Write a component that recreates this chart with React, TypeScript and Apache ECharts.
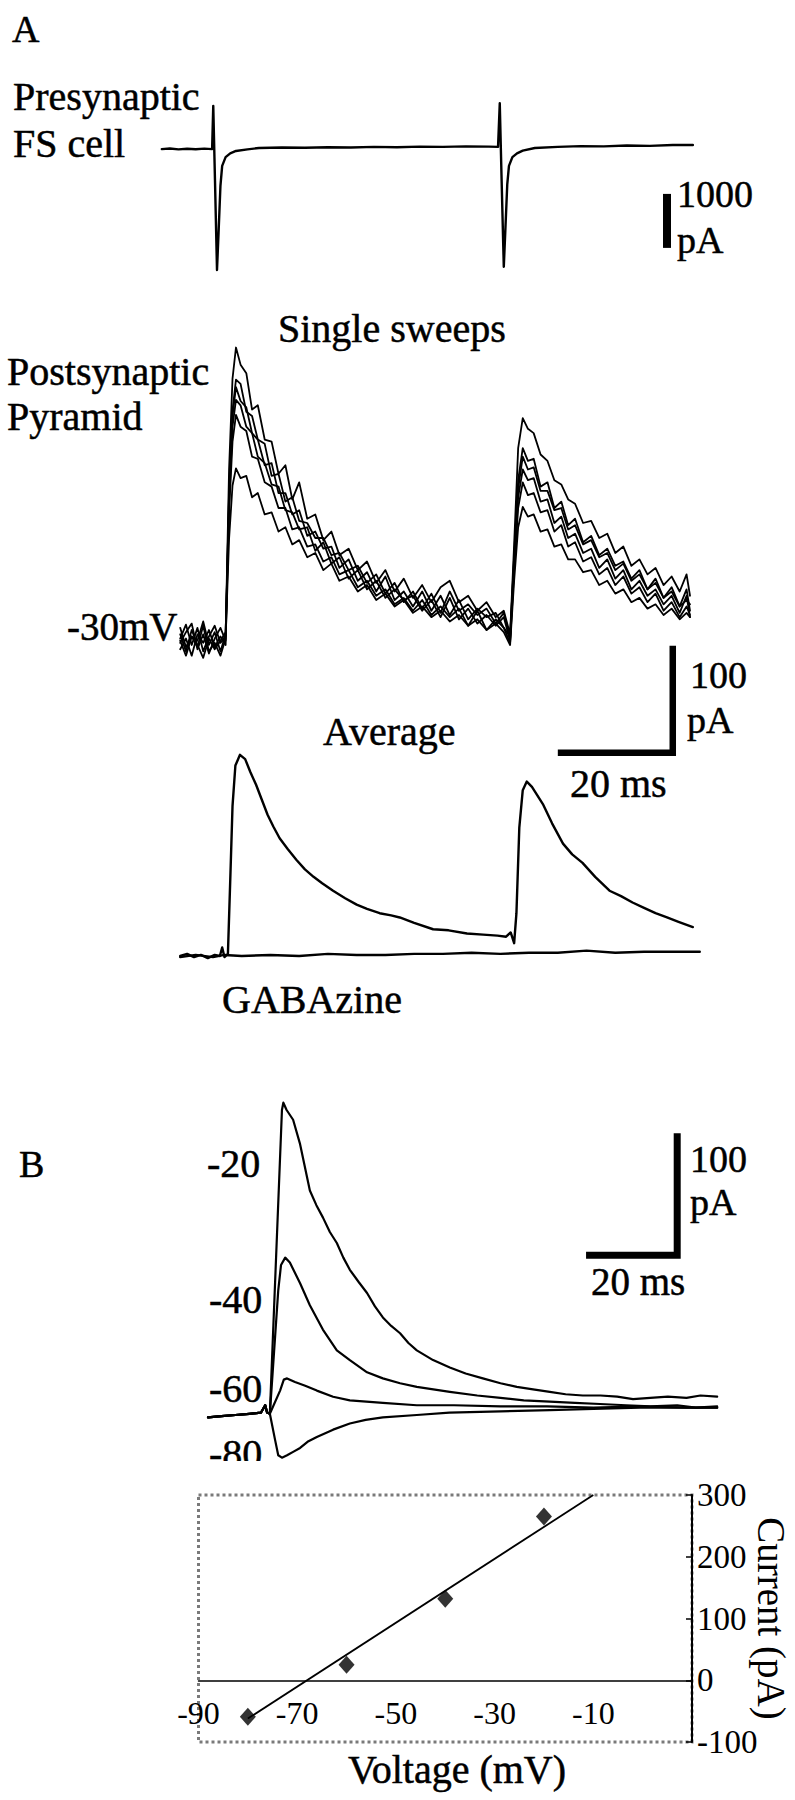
import React, { useEffect, useRef } from "react";
import * as echarts from "echarts";

const FONT = "'Liberation Serif', 'Times New Roman', serif";

// ---------- Panel A: presynaptic FS cell (t in ms, current in pA) ----------
const PRE_T = [
  -8.9, -7.5, -6, -4.5, -3, -1.5, -0.15, 0.05, 0.35, 0.7, 1.0, 1.3, 1.6, 2.2, 3.0, 4.0, 6,
  8, 12, 16, 20, 24, 28, 32, 36, 40, 44, 48, 49.6, 49.9, 50.2, 50.6, 50.9, 51.2, 51.5,
  52.1, 52.9, 53.9, 56, 60, 64, 68, 72, 76, 80, 83.5,
];
const PRE_I = [
  -20, -10, -25, -15, -22, -12, -20, 780, -600, -2260, -1500, -700, -330, -170, -100, -55, -25,
  0, 10, 5, 15, 10, 20, 15, 25, 20, 30, 25, 20, 830, -500, -2200, -1450, -680, -330,
  -170, -100, -50, 0, 20, 35, 30, 45, 40, 55, 55,
];

// ---------- Panel A: postsynaptic single sweeps ----------
const SWEEP_T = [
  -5.7, -4.7, -3.7, -2.7, -1.7, -0.7, 0.3, 1.3, 2.2, 2.8, 3.4, 4.0,
  4.8, 5.8, 6.8, 7.8, 9.0, 10.2, 11.4, 12.6, 13.8, 15.0, 16.4, 17.8,
  19.2, 20.6, 22.0, 23.6, 25.2, 26.8, 28.4, 30.0, 31.6, 33.2, 34.8, 36.4,
  38.0, 39.6, 41.2, 42.8, 44.4, 46.0, 47.6, 49.2, 50.6, 51.7, 52.4, 53.1,
  53.9, 54.8, 55.8, 57.0, 58.2, 59.4, 60.6, 61.8, 63.0, 64.4, 65.8, 67.2,
  68.6, 70.0, 71.4, 72.8, 74.2, 75.6, 77.0, 78.4, 79.8, 81.2, 82.4, 83.0,
];
const SWEEP_1 = [
  -8, 5, -14, 2, -20, -6, 4, -12, -6, 150, 235, 264,
  248, 240, 206, 210, 178, 176, 146, 154, 122, 138, 104, 108,
  84, 92, 70, 76, 56, 64, 44, 56, 36, 48, 30, 42,
  26, 40, 46, 26, 32, 18, 26, 12, 18, -4, 80, 170,
  198, 188, 184, 164, 158, 140, 136, 122, 118, 100, 102, 86,
  90, 72, 78, 60, 66, 52, 58, 42, 50, 36, 52, 32,
];
const SWEEP_2 = [
  -12, -2, 6, -18, -4, -22, -8, 2, -10, 130, 205, 234,
  230, 204, 200, 178, 174, 144, 146, 120, 124, 102, 100, 86,
  86, 70, 72, 56, 60, 44, 52, 34, 44, 26, 36, 20,
  34, 16, 36, 18, 24, 14, 20, 6, 16, -8, 70, 140,
  170, 158, 160, 134, 138, 114, 120, 98, 104, 82, 88, 70,
  76, 60, 64, 48, 56, 38, 48, 30, 40, 22, 38, 18,
];
const SWEEP_3 = [
  2, -16, -6, -10, 8, -14, -2, -20, -4, 125, 200, 227,
  214, 208, 184, 178, 154, 156, 128, 128, 108, 112, 88, 92,
  76, 78, 58, 66, 46, 54, 36, 50, 28, 36, 22, 36,
  18, 32, 14, 28, 10, 20, 12, 16, 2, -6, 66, 132,
  162, 150, 152, 130, 130, 112, 114, 94, 98, 80, 84, 68,
  72, 56, 62, 46, 52, 38, 44, 30, 36, 22, 28, 24,
];
const SWEEP_4 = [
  -18, -8, -24, -4, -12, 0, -16, -6, -14, 118, 190, 215,
  210, 190, 184, 162, 156, 136, 134, 112, 110, 94, 96, 74,
  82, 62, 68, 48, 56, 38, 46, 30, 38, 28, 32, 18,
  28, 12, 30, 10, 20, 6, 14, 4, 12, -10, 60, 124,
  150, 140, 142, 120, 122, 100, 106, 86, 90, 72, 76, 58,
  66, 48, 56, 38, 46, 32, 38, 24, 32, 16, 32, 12,
];
const SWEEP_5 = [
  -4, -20, 0, -14, -26, -8, -18, -10, -2, 110, 176, 201,
  190, 186, 162, 160, 138, 134, 114, 114, 94, 96, 78, 80,
  64, 68, 52, 56, 40, 46, 32, 38, 24, 30, 18, 28,
  14, 22, 12, 20, 4, 18, 0, 10, 2, -12, 56, 114,
  138, 126, 128, 110, 112, 92, 98, 78, 82, 64, 68, 52,
  58, 42, 50, 34, 40, 26, 34, 18, 26, 12, 22, 14,
];
const SWEEP_6 = [
  -10, -24, -6, -16, 4, -20, -12, -24, -8, 85, 135, 151,
  142, 144, 124, 128, 108, 110, 92, 96, 80, 84, 68, 72,
  56, 62, 46, 50, 36, 42, 28, 34, 22, 28, 16, 22,
  12, 18, 8, 14, 4, 10, 0, 6, -2, -14, 46, 96,
  115, 106, 108, 92, 94, 78, 80, 66, 66, 54, 56, 42,
  46, 34, 38, 26, 30, 20, 24, 14, 20, 10, 16, 12,
];
const SWEEPS = [SWEEP_1, SWEEP_2, SWEEP_3, SWEEP_4, SWEEP_5, SWEEP_6];

// ---------- Panel A: average and GABAzine ----------
const AVG_T = [
  -5.7, -4.5, -3.3, -2.1, -0.9, 0.3, 1.2, 1.6, 2.0, 2.6, 3.0, 3.4, 3.9, 4.7, 5.6, 6.5,
  7.5, 8.5, 9.5, 10.5, 11.6, 13.0, 14.5, 16, 17.5, 19, 20.9, 23, 25, 26.8, 29, 31,
  32.5, 35, 38.3, 41, 44.2, 47, 49.5, 51.0, 51.8, 52.4, 52.8, 53.3, 53.9, 54.6, 55.5,
  57.4, 59, 60.9, 62.5, 64.3, 66.5, 69, 71, 73, 75, 77, 79, 81, 83.5,
];
const AVG_I = [
  0, 2, -1, 1, -2, 1, 0, 8, -1, 2, 70, 140, 178, 188, 184, 172,
  160, 146, 132, 121, 110, 100, 90, 81, 74, 68, 61, 54, 48, 44, 40, 38,
  36, 31, 25, 24, 21, 20, 19, 18, 22, 12, 40, 120, 155, 163, 158,
  142, 124, 105, 95, 87, 74, 61, 56, 50, 45, 40, 36, 32, 27,
];
const GABA_T = [-5.7, -3, 0, 2, 5, 10, 15, 20, 25, 30, 35, 40, 45, 50, 55, 60, 65, 70, 75, 80, 84.7];
const GABA_I = [-1, 1, -1, 1, 0, 1, 0, 2, 1, 1, 2, 2, 3, 2, 3, 3, 5, 3, 4, 4, 4];

// ---------- Panel B: currents at holding potentials ----------
const B_PRE_T = [-12.9, -10, -7, -4, -1.5, -0.6, -0.2, 0.4];
const B_PRE_I = [-2, -1, 0, 1, 2, 8, 2, 1];
const B20_T = [3.0, 3.3, 4.0, 5.4, 6.9, 9.0, 10.4, 11.8, 13.3, 14.8, 16.2, 17.6, 19.5, 21.3, 23, 24.7, 26.5, 28.4, 30.2, 32, 35.5, 39.1, 42.5, 46.2, 50, 53.5, 57, 60.6, 64, 67.7, 71.5, 75.1, 78.5, 82.2, 86, 90, 93, 96.6];
const B20_I = [250, 256, 250, 242, 222, 184, 172, 162, 150, 141, 129, 119, 109, 100, 89, 80, 73, 67, 59, 53, 45, 39, 34, 30, 26, 23, 21, 19, 17, 16, 16, 15, 13, 14, 15, 14, 16, 15];
const B40_T = [2.2, 2.8, 3.7, 4.7, 6.9, 9.0, 11.8, 14.8, 17.6, 21.3, 24.7, 28.4, 32, 39.1, 45, 50, 55, 60.6, 66, 71.4, 77, 82.2, 88, 92, 96.6];
const B40_I = [102, 123, 129, 125, 108, 90, 70, 53, 45, 35, 30, 26, 23, 19, 16, 14, 12, 11, 10, 9, 8, 7, 8, 6, 7];
const B60_T = [2.6, 3.4, 4.1, 5.8, 8, 10.5, 14, 17.6, 24.7, 32, 40, 50, 60, 70, 80, 90, 96.6];
const B60_I = [20, 29, 30, 27, 24, 20, 15, 12, 10, 8, 8, 7, 7, 6, 7, 6, 6];
const B80_T = [1.5, 2.2, 3.0, 4.1, 5.5, 6.9, 8.5, 10.5, 14, 17.6, 21, 24.7, 32, 39, 50, 60.6, 70, 80, 90, 96.6];
const B80_I = [-20, -33, -35, -33, -30, -27, -22, -18, -12, -7, -4, -2, 0, 2, 3, 4, 5, 6, 6, 6];
const B_LABELS = ["-20", "-40", "-60", "-80"];

// ---------- Panel B: I-V relation ----------
const IV_V = [-80, -60, -40, -20];
const IV_I = [-59, 25, 132, 265];
const FIT_V = [-80, -10];
const FIT_I = [-62, 300];

// ---------- scale bars (data units) ----------
const PRE_BAR_PA = 1000;
const BAR_MS = 20;
const BAR_PA = 100;

const zip = (t: number[], v: number[]) => t.map((x, i) => [x, v[i]]);

function txt(text: string, x: number, baseline: number, fs = 40, align = "left") {
  return {
    type: "text",
    z: 20,
    style: {
      text,
      x,
      y: baseline - 0.34 * fs,
      fontSize: fs,
      fontFamily: FONT,
      fill: "#000",
      stroke: "#000",
      lineWidth: 0.5,
      align,
      verticalAlign: "middle",
    },
  };
}

function trace(data: number[][], idx: number, width: number) {
  return {
    type: "line",
    xAxisIndex: idx,
    yAxisIndex: idx,
    data,
    symbol: "none",
    showSymbol: false,
    silent: true,
    clip: false,
    lineStyle: { color: "#000", width, cap: "round", join: "round" },
  };
}

function bar(data: number[][], idx: number, width: number) {
  return {
    type: "line",
    xAxisIndex: idx,
    yAxisIndex: idx,
    data,
    symbol: "none",
    showSymbol: false,
    silent: true,
    clip: false,
    lineStyle: { color: "#000", width, cap: "butt", join: "miter" },
  };
}

export default function App() {
  const ref = useRef<HTMLDivElement>(null);

  useEffect(() => {
    if (!ref.current) return;
    const chart = echarts.init(ref.current, undefined, { renderer: "svg" });

    const hiddenX = (i: number, min: number, max: number) => ({ gridIndex: i, type: "value", min, max, show: false });
    const hiddenY = (i: number, min: number, max: number) => ({ gridIndex: i, type: "value", min, max, show: false });

    const bData = (t: number[], v: number[]) => zip(B_PRE_T, B_PRE_I).concat(zip(t, v));

    const option: any = {
      animation: false,
      backgroundColor: "#ffffff",
      grid: [
        { left: 155.5, top: 94, width: 546, height: 189, outerBoundsMode: "none" },
        { left: 155.5, top: 309, width: 546, height: 363.8, outerBoundsMode: "none" },
        { left: 155.5, top: 613.6, width: 546, height: 374.5, outerBoundsMode: "none" },
        { left: 198.25, top: 1085.6, width: 534.75, height: 390.4, outerBoundsMode: "none" },
        {
          left: 198.5,
          top: 1495,
          width: 493.5,
          height: 247,
          outerBoundsMode: "none",
          containLabel: false,
          show: true,
          borderColor: "#7a7a7a",
          borderWidth: 3,
          borderType: "dotted",
        },
      ],
      xAxis: [
        hiddenX(0, -10, 85),
        hiddenX(1, -10, 85),
        hiddenX(2, -10, 85),
        hiddenX(3, -15, 100),
        {
          gridIndex: 4,
          type: "value",
          min: -90,
          max: 10,
          interval: 20,
          axisLine: { show: true, onZero: true, lineStyle: { color: "#000", width: 1.5 } },
          axisTick: { show: false },
          splitLine: { show: false },
          axisLabel: {
            color: "#000",
            fontSize: 32,
            fontFamily: FONT,
            margin: -45,
            showMaxLabel: false,
          },
        },
      ],
      yAxis: [
        hiddenY(0, -2500, 1000),
        hiddenY(1, -40, 300),
        hiddenY(2, -30, 320),
        hiddenY(3, -50, 270),
        {
          gridIndex: 4,
          type: "value",
          position: "right",
          min: -100,
          max: 300,
          interval: 100,
          name: "Current (pA)",
          nameLocation: "middle",
          nameRotate: -90,
          nameGap: 60,
          nameMoveOverlap: false,
          nameTextStyle: { color: "#000", fontSize: 39, fontFamily: FONT },
          axisLine: { show: true, onZero: false, lineStyle: { color: "#000", width: 2 } },
          axisTick: { show: true, inside: true, length: 6, lineStyle: { color: "#000", width: 1.5 } },
          splitLine: { show: false },
          axisLabel: { color: "#000", fontSize: 33, fontFamily: FONT, margin: 5 },
        },
      ],
      series: [
        trace(zip(PRE_T, PRE_I), 0, 2.4),
        bar([[79, -850], [79, -850 - PRE_BAR_PA]], 0, 8),
        ...SWEEPS.map((s) => trace(zip(SWEEP_T, s), 1, 1.8)),
        trace(zip(GABA_T, GABA_I), 2, 2.4),
        trace(zip(AVG_T, AVG_I), 2, 2.4),
        bar([[80 - BAR_MS, 190], [80, 190], [80, 190 + BAR_PA]], 2, 6.5),
        trace(bData(B20_T, B20_I), 3, 2.2),
        trace(bData(B40_T, B40_I), 3, 2.2),
        trace(bData(B60_T, B60_I), 3, 2.2),
        trace(bData(B80_T, B80_I), 3, 2.2),
        bar([[88 - BAR_MS + 0.4, 131], [88, 131], [88, 131 + BAR_PA]], 3, 7),
        {
          type: "line",
          xAxisIndex: 4,
          yAxisIndex: 4,
          data: zip(FIT_V, FIT_I),
          symbol: "none",
          silent: true,
          lineStyle: { color: "#000", width: 1.8 },
        },
        {
          type: "scatter",
          xAxisIndex: 4,
          yAxisIndex: 4,
          data: zip(IV_V, IV_I),
          symbol: "diamond",
          symbolSize: [16, 18],
          itemStyle: { color: "#000" },
          silent: true,
          z: 5,
        },
      ],
      graphic: {
        elements: [
          txt("A", 12, 42, 38),
          txt("Presynaptic", 13, 110),
          txt("FS cell", 13, 157),
          txt(String(PRE_BAR_PA), 677, 207, 38),
          txt("pA", 677, 253, 38),
          txt("Single sweeps", 278, 342),
          txt("Postsynaptic", 7, 385),
          txt("Pyramid", 7, 430),
          txt("-30mV", 67, 640, 39),
          txt(String(BAR_PA), 690, 688, 38),
          txt("pA", 687, 733, 38),
          txt(`${BAR_MS} ms`, 570, 797, 40),
          txt("Average", 323, 745),
          txt("GABAzine", 222, 1013),
          txt("B", 19, 1177, 38),
          txt(B_LABELS[0], 207, 1177),
          txt(B_LABELS[1], 209, 1313),
          txt(B_LABELS[2], 209, 1402),
          txt(B_LABELS[3], 209, 1467),
          {
            type: "rect",
            z: 30,
            shape: { x: 200, y: 1461, width: 66, height: 28 },
            style: { fill: "#ffffff" },
          },
          txt(String(BAR_PA), 690, 1172, 38),
          txt("pA", 690, 1215, 38),
          txt(`${BAR_MS} ms`, 591, 1295, 39),
          txt("Voltage (mV)", 457, 1783, 40, "center"),
        ],
      },
    };

    chart.setOption(option);
    return () => chart.dispose();
  }, []);

  return (
    <div
      ref={ref}
      style={{ position: "absolute", left: 0, top: 0, width: 795, height: 1800, background: "#fff" }}
    />
  );
}
